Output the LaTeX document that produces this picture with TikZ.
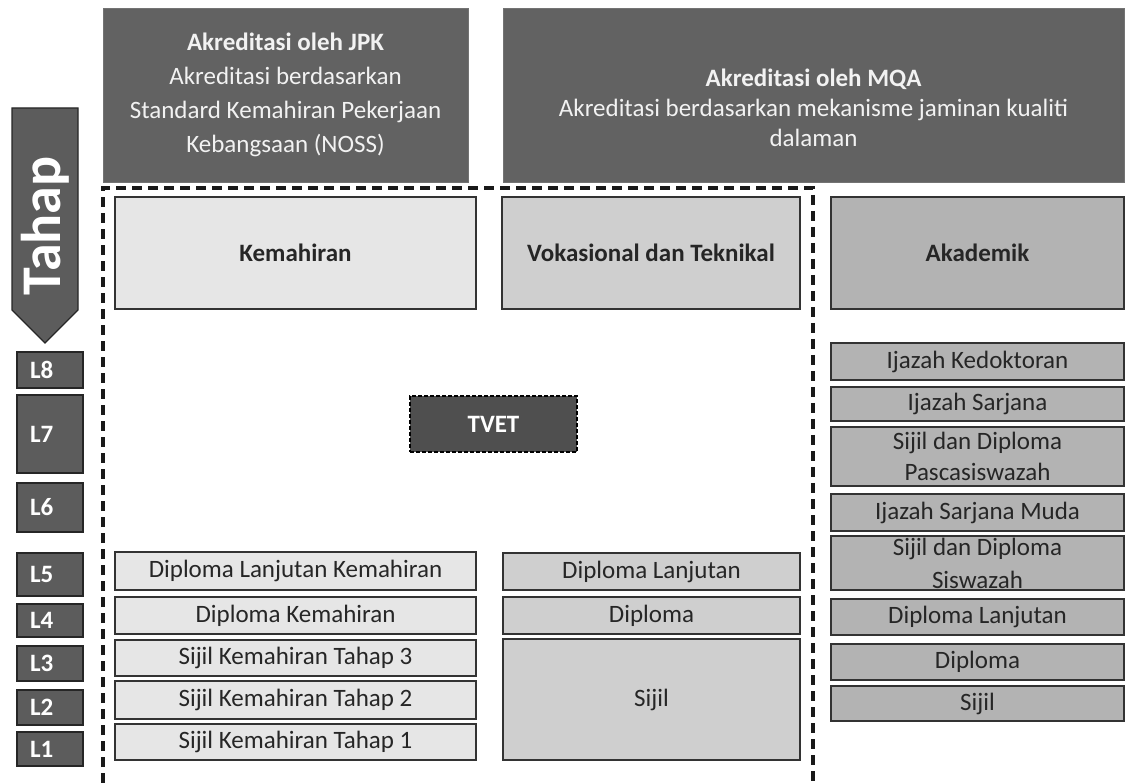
\documentclass[tikz,border=0pt]{standalone}
\usepackage{fontspec}
\setmainfont{Carlito}
\definecolor{darkbox}{HTML}{626262}
\definecolor{lvlgray}{HTML}{5C5C5C}
\definecolor{tvetgray}{HTML}{4F4F4F}
\definecolor{kemgray}{HTML}{E6E6E6}
\definecolor{vokgray}{HTML}{CFCFCF}
\definecolor{akagray}{HTML}{B3B3B3}
\definecolor{inkgray}{HTML}{262626}

\begin{document}
\begin{tikzpicture}[x=1pt,y=-1pt,
    wh/.style 2 args={minimum width=#1pt,minimum height=#2pt},
    box/.style={draw=black!80,line width=1.1pt,inner sep=0pt,align=center,
      text=inkgray,font=\fontsize{25}{31}\selectfont},
    hdr/.style={box,font=\fontsize{25}{31}\selectfont\bfseries},
    kem/.style={box,fill=kemgray},
    vok/.style={box,fill=vokgray},
    aka/.style={box,fill=akagray},
    topbox/.style={draw=black!55,line width=0.8pt,fill=darkbox,inner sep=0pt},
    toptext/.style={align=center,text=white!95!black,inner sep=0pt},
    lvl/.style={draw=black!85,line width=1.1pt,fill=lvlgray,inner sep=0pt,
      minimum width=66pt,text width=40pt,align=left,text=white,
      font=\fontsize{25}{28}\selectfont\bfseries},
    dashframe/.style={line width=3.4pt,dash pattern=on 10pt off 6pt,black!90}]
        \useasboundingbox (0,0) rectangle (1125,783);
        %Accreditation
        \node[topbox,wh={365}{174}] (jpk) at (285.5,95) {};
        \node[toptext,font=\fontsize{25}{34}\selectfont] (jpk-t) at (jpk.center)
          {\textbf{Akreditasi oleh JPK}\\Akreditasi berdasarkan\\Standard Kemahiran Pekerjaan\\Kebangsaan (NOSS)};
        \node[topbox,wh={621}{174}] (mqa) at (813.5,95) {};
        \node[toptext,font=\fontsize{25}{30}\selectfont] (mqa-t) at (813.5,108)
          {\textbf{Akreditasi oleh MQA}\\Akreditasi berdasarkan mekanisme jaminan kualiti\\dalaman};
        %Tahap arrow
        \filldraw[fill=lvlgray,draw=black!85,line width=1.1pt]
          (12,108) -- (78,108) -- (78,310) -- (45,343) -- (12,310) -- cycle;
        \node[rotate=90,text=white,inner sep=0pt,font=\fontsize{56}{60}\selectfont\bfseries]
          (tahap) at (45,226) {Tahap};
        %Levels
        \node[lvl,minimum height=36pt] (l8) at (50,370) {L8};
        \node[lvl,minimum height=78pt] (l7) at (50,434) {L7};
        \node[lvl,minimum height=49pt] (l6) at (50,507.5) {L6};
        \node[lvl,minimum height=43pt] (l5) at (50,574.5) {L5};
        \node[lvl,minimum height=33pt] (l4) at (50,620.5) {L4};
        \node[lvl,minimum height=35pt] (l3) at (50,663.5) {L3};
        \node[lvl,minimum height=35pt] (l2) at (50,707.5) {L2};
        \node[lvl,minimum height=34pt] (l1) at (50,749) {L1};
        %Dashed frame
        \coordinate (fbl) at (103,783);
        \coordinate (ftl) at (103,188);
        \coordinate (ftr) at (813,188);
        \coordinate (fbr) at (813,783);
        \draw[dashframe] (fbl) -- (ftl) -- (ftr) -- (fbr);
        %Headers
        \node[hdr,fill=kemgray,wh={361}{112}] (kemahiran) at (295.5,253) {Kemahiran};
        \node[hdr,fill=vokgray,wh={298}{112}] (vokasional) at (651,253) {Vokasional dan Teknikal};
        \node[hdr,fill=akagray,wh={293}{112}] (akademik) at (977.5,253) {Akademik};
        %Kemahiran column
        \node[kem,wh={361}{38}] (kem5) at (295.5,571) {Diploma Lanjutan Kemahiran};
        \node[kem,wh={361}{37}] (kem4) at (295.5,615.5) {Diploma Kemahiran};
        \node[kem,wh={361}{36}] (kem3) at (295.5,658) {Sijil Kemahiran Tahap 3};
        \node[kem,wh={361}{38}] (kem2) at (295.5,700) {Sijil Kemahiran Tahap 2};
        \node[kem,wh={361}{36}] (kem1) at (295.5,742) {Sijil Kemahiran Tahap 1};
        %Vokasional column
        \node[vok,wh={297}{37}] (vok5) at (651.5,571.5) {Diploma Lanjutan};
        \node[vok,wh={297}{37}] (vok4) at (651.5,615.5) {Diploma};
        \node[vok,wh={297}{121}] (vok1) at (651.5,699.5) {Sijil};
        %Akademik column
        \node[aka,wh={293}{37}] (aka8) at (977.5,361.5) {Ijazah Kedoktoran};
        \node[aka,wh={293}{34}] (aka7) at (977.5,404) {Ijazah Sarjana};
        \node[aka,wh={293}{59}] (aka6b) at (977.5,456.5) {};
        \node[inner sep=0pt,align=center,text=inkgray,font=\fontsize{25}{31}\selectfont]
          (aka6b-t) at (aka6b.center) {Sijil dan Diploma\\Pascasiswazah};
        \node[aka,wh={293}{37}] (aka6) at (977.5,512.5) {Ijazah Sarjana Muda};
        \node[aka,wh={293}{54}] (aka5b) at (977.5,563) {};
        \node[inner sep=0pt,align=center,text=inkgray,font=\fontsize{25}{33}\selectfont]
          (aka5b-t) at (aka5b.center) {Sijil dan Diploma\\Siswazah};
        \node[aka,wh={293}{36}] (aka5) at (977.5,617) {Diploma Lanjutan};
        \node[aka,wh={293}{36}] (aka4) at (977.5,662) {Diploma};
        \node[aka,wh={293}{35}] (aka3) at (977.5,703.5) {Sijil};
        %TVET
        \node[fill=tvetgray,draw=black,line width=1.8pt,dash pattern=on 4pt off 2pt,
          wh={167}{56},text=white,font=\fontsize{25}{30}\selectfont\bfseries] (tvet) at (493.5,424) {TVET};
\end{tikzpicture}
\end{document}
